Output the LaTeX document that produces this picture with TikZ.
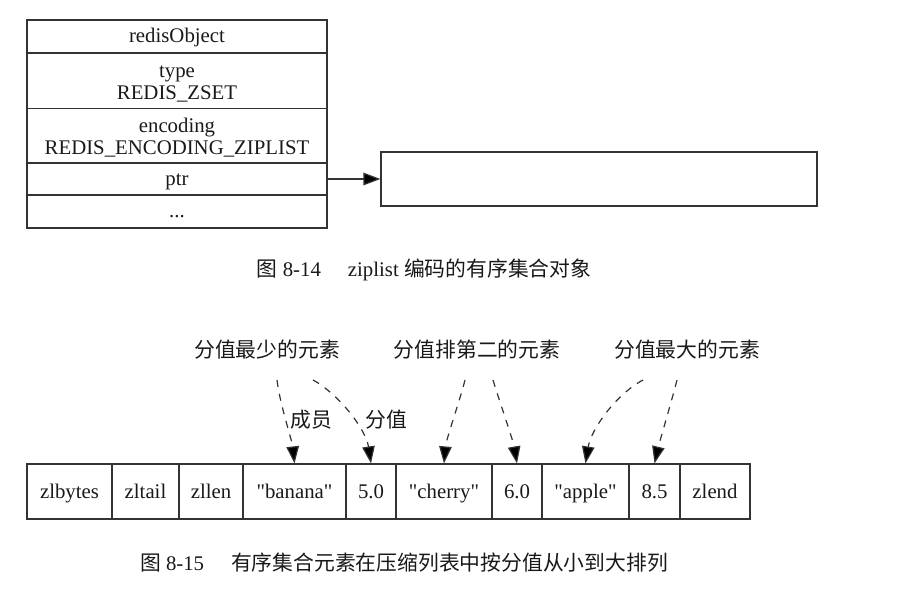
\documentclass[tikz,border=0pt]{standalone}
\usepackage{fontspec}
\setmainfont{Liberation Serif}
\newfontfamily\cjk{Noto Sans CJK SC}
\usetikzlibrary{arrows.meta}
\definecolor{linec}{gray}{0.2}
\definecolor{textc}{gray}{0.1}
\newcommand{\qq}[1]{\textquotedbl#1\textquotedbl}
\begin{document}
\begin{tikzpicture}[x=1pt,y=-1pt,
  cell/.style={draw=linec, line width=1.2pt, inner sep=0pt, text=textc,
    font=\fontsize{20.8}{20.5}\selectfont, align=center, text height=18pt, text depth=5pt},
  cell2/.style={cell, font=\fontsize{20.8}{22}\selectfont, text height=42pt, text depth=5pt},
  lbl/.style={inner sep=0pt, text=textc, font=\fontsize{20.8}{22}\cjk},
  captext/.style={inner sep=0pt, text=textc, font=\fontsize{20.8}{22}\selectfont},
  edge/.style={draw=linec, line width=1.2pt, dash pattern=on 7pt off 7pt,
    -{Triangle[length=17pt,width=12.5pt,fill=black]}},
  solidedge/.style={draw=linec, line width=1.2pt,
    -{Triangle[length=17pt,width=12.5pt,fill=black]}}]
\useasboundingbox (0,0) rectangle (906,604);
% redisObject record
\node[cell, minimum width=300pt, minimum height=33pt] (r0) at (177,36.5) {redisObject};
\node[cell2, minimum width=300pt, minimum height=55pt] (r1) at (177,81) {type\\REDIS\_ZSET};
\node[cell2, minimum width=300pt, minimum height=55pt] (r2) at (177,136) {encoding\\REDIS\_ENCODING\_ZIPLIST};
\node[cell, minimum width=300pt, minimum height=32pt] (r3) at (177,179) {ptr};
\node[cell, minimum width=300pt, minimum height=33pt] (r4) at (177,211.5) {...};
\node[cell, minimum width=436pt, minimum height=54pt] (tgt) at (599,179) {};
\draw[solidedge] (r3.east) -- (tgt.west);
\node[captext] (cap1) at (424,270) {{\cjk 图} 8-14\hspace{1.3em}ziplist {\cjk 编码的有序集合对象}};
% ziplist
\node[cell, minimum width=85pt, minimum height=55pt] (c1) at (69.5,491.5) {zlbytes};
\node[cell, minimum width=67pt, minimum height=55pt] (c2) at (145.5,491.5) {zltail};
\node[cell, minimum width=64pt, minimum height=55pt] (c3) at (211,491.5) {zllen};
\node[cell, minimum width=103pt, minimum height=55pt] (c4) at (294.5,491.5) {\qq{banana}};
\node[cell, minimum width=50pt, minimum height=55pt] (c5) at (371,491.5) {5.0};
\node[cell, minimum width=96pt, minimum height=55pt] (c6) at (444,491.5) {\qq{cherry}};
\node[cell, minimum width=50pt, minimum height=55pt] (c7) at (517,491.5) {6.0};
\node[cell, minimum width=87pt, minimum height=55pt] (c8) at (585.5,491.5) {\qq{apple}};
\node[cell, minimum width=51pt, minimum height=55pt] (c9) at (654.5,491.5) {8.5};
\node[cell, minimum width=70pt, minimum height=55pt] (c10) at (715,491.5) {zlend};
% labels
\node[lbl] (la) at (267,350) {分值最少的元素};
\node[lbl] (lb) at (477,350) {分值排第二的元素};
\node[lbl] (lcc) at (687,350) {分值最大的元素};
\coordinate (a1) at (277,380);
\coordinate (a2) at (313,380);
\coordinate (b1) at (465,380);
\coordinate (b2) at (493,380);
\coordinate (d1) at (643,380);
\coordinate (d2) at (677,380);
\draw[edge] (a1) .. controls (280,405) and (292,440) .. (c4.north);
\draw[edge] (a2) .. controls (340,395) and (366,430) .. (c5.north);
\draw[edge] (b1) .. controls (460,400) and (446,440) .. (c6.north);
\draw[edge] (b2) .. controls (499,400) and (513,440) .. (c7.north);
\draw[edge] (d1) .. controls (615,395) and (591,430) .. (c8.north);
\draw[edge] (d2) .. controls (672,400) and (660,440) .. (c9.north);
\node[lbl] (e1) at (311,420) {成员};
\node[lbl] (e2) at (386,420) {分值};
\node[captext] (cap2) at (404,563) {{\cjk 图} 8-15\hspace{1.3em}{\cjk 有序集合元素在压缩列表中按分值从小到大排列}};
\end{tikzpicture}
\end{document}
